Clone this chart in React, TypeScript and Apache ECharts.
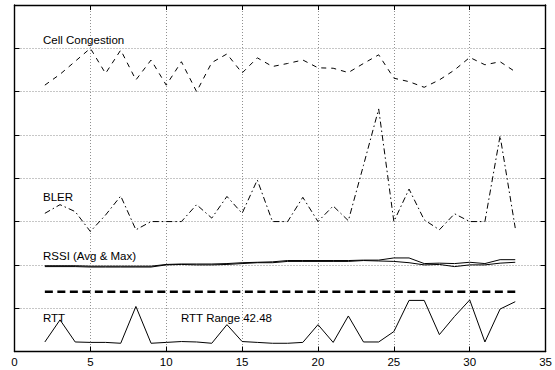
import React, { useEffect, useRef } from "react";
import * as echarts from "echarts";

const xs = [2, 3, 4, 5, 6, 7, 8, 9, 10, 11, 12, 13, 14, 15, 16, 17, 18, 19, 20, 21, 22, 23, 24, 25, 26, 27, 28, 29, 30, 31, 32, 33];
const cellCongestion = [6.15, 6.4, 6.7, 7.0, 6.42, 6.96, 6.27, 6.73, 6.15, 6.69, 6.0, 6.67, 6.87, 6.43, 6.78, 6.58, 6.65, 6.73, 6.55, 6.54, 6.44, 6.65, 6.85, 6.31, 6.23, 6.1, 6.27, 6.5, 6.79, 6.62, 6.69, 6.46];
const bler = [3.19, 3.39, 3.23, 2.77, 3.15, 3.59, 2.81, 3.0, 3.0, 3.0, 3.39, 3.08, 3.58, 3.19, 3.96, 3.0, 3.0, 3.56, 3.0, 3.36, 3.02, 4.3, 5.6, 3.0, 3.75, 3.04, 2.81, 3.18, 3.0, 3.0, 4.98, 2.85];
const rssiMax = [1.98, 1.98, 1.98, 1.97, 1.97, 1.97, 1.97, 1.97, 2.01, 2.02, 2.02, 2.02, 2.03, 2.05, 2.06, 2.07, 2.1, 2.1, 2.1, 2.1, 2.1, 2.11, 2.11, 2.16, 2.16, 2.03, 2.04, 2.03, 2.06, 2.03, 2.12, 2.12];
const rssiAvg = [1.96, 1.96, 1.96, 1.95, 1.95, 1.95, 1.95, 1.95, 2.0, 2.01, 2.0, 2.0, 2.01, 2.03, 2.05, 2.05, 2.08, 2.08, 2.08, 2.08, 2.08, 2.1, 2.09, 2.08, 2.05, 2.0, 2.01, 1.96, 2.0, 2.0, 2.04, 2.06];
const rttLevel = 1.38;
const rtt = [0.22, 0.73, 0.22, 0.21, 0.21, 0.19, 1.04, 0.19, 0.21, 0.23, 0.22, 0.19, 0.62, 0.23, 0.21, 0.19, 0.19, 0.21, 0.62, 0.21, 0.82, 0.22, 0.22, 0.46, 1.18, 1.18, 0.39, 0.81, 1.19, 0.22, 0.98, 1.15];
const xTicks = [0, 5, 10, 15, 20, 25, 30, 35];
const labels = ["Cell Congestion", "BLER", "RSSI (Avg & Max)", "RTT", "RTT Range 42.48"];

const FONT = "'Liberation Sans', Arial, Helvetica, sans-serif";

function pair(vals: number[]) {
  return xs.map((x, i) => [x, vals[i]]);
}

export default function App() {
  const ref = useRef<HTMLDivElement>(null);
  useEffect(() => {
    if (!ref.current) return;
    const chart = echarts.init(ref.current, undefined, { renderer: "svg" });
    const grid = { left: 14.5, right: 9, top: 5, bottom: 18.5 };
    const gridLine = { show: true, lineStyle: { color: "#8f8f8f", type: [1, 2] as any, width: 1 } };
    const axisLine = { show: true, onZero: false, lineStyle: { color: "#000", width: 1.4 } };
    const axisTick = { show: true, inside: true, length: 5, lineStyle: { color: "#000" } };
    const txt = (t: string, x: number, y: number) => ({
      type: "text",
      x,
      y,
      style: { text: t, font: `11.5px ${FONT}`, fill: "#000", textVerticalAlign: "middle" },
      z: 100,
    });
    chart.setOption({
      animation: false,
      backgroundColor: "#fff",
      grid,
      xAxis: [
        {
          type: "value",
          min: xTicks[0],
          max: xTicks[xTicks.length - 1],
          interval: 5,
          axisLine,
          axisTick,
          axisLabel: { color: "#000", fontSize: 11.5, fontFamily: FONT, margin: 4, showMinLabel: true, showMaxLabel: true },
          splitLine: gridLine,
        },
        {
          type: "value",
          position: "top",
          min: 0,
          max: 35,
          interval: 5,
          axisLine,
          axisTick,
          axisLabel: { show: false },
          splitLine: { show: false },
        },
      ],
      yAxis: [
        {
          type: "value",
          min: 0,
          max: 8,
          interval: 1,
          axisLine,
          axisTick,
          axisLabel: { show: false },
          splitLine: gridLine,
        },
        {
          type: "value",
          position: "right",
          min: 0,
          max: 8,
          interval: 1,
          axisLine,
          axisTick,
          axisLabel: { show: false },
          splitLine: { show: false },
        },
      ],
      series: [
        {
          name: "Cell Congestion",
          type: "line",
          data: pair(cellCongestion),
          showSymbol: false,
          lineStyle: { color: "#000", width: 1, type: [5, 5] as any },
        },
        {
          name: "BLER",
          type: "line",
          data: pair(bler),
          showSymbol: false,
          lineStyle: { color: "#000", width: 1, type: [6, 3, 1.5, 3] as any },
        },
        {
          name: "RSSI Max",
          type: "line",
          data: pair(rssiMax),
          showSymbol: false,
          lineStyle: { color: "#000", width: 1 },
        },
        {
          name: "RSSI Avg",
          type: "line",
          data: pair(rssiAvg),
          showSymbol: false,
          lineStyle: { color: "#000", width: 1 },
        },
        {
          name: "RTT Level",
          type: "line",
          data: xs.map((x) => [x, rttLevel]),
          showSymbol: false,
          lineStyle: { color: "#000", width: 2.5, type: [8, 4.5] as any },
        },
        {
          name: "RTT",
          type: "line",
          data: pair(rtt),
          showSymbol: false,
          lineStyle: { color: "#000", width: 1 },
        },
      ],
      graphic: [
        txt(labels[0], 43, 40),
        txt(labels[1], 43, 197),
        txt(labels[2], 43, 256),
        txt(labels[3], 43, 318),
        txt(labels[4], 181, 318),
      ],
    });
    return () => chart.dispose();
  }, []);
  return (
    <div
      ref={ref}
      style={{ position: "fixed", left: 0, top: 0, width: 555, height: 370, background: "#fff" }}
    />
  );
}
